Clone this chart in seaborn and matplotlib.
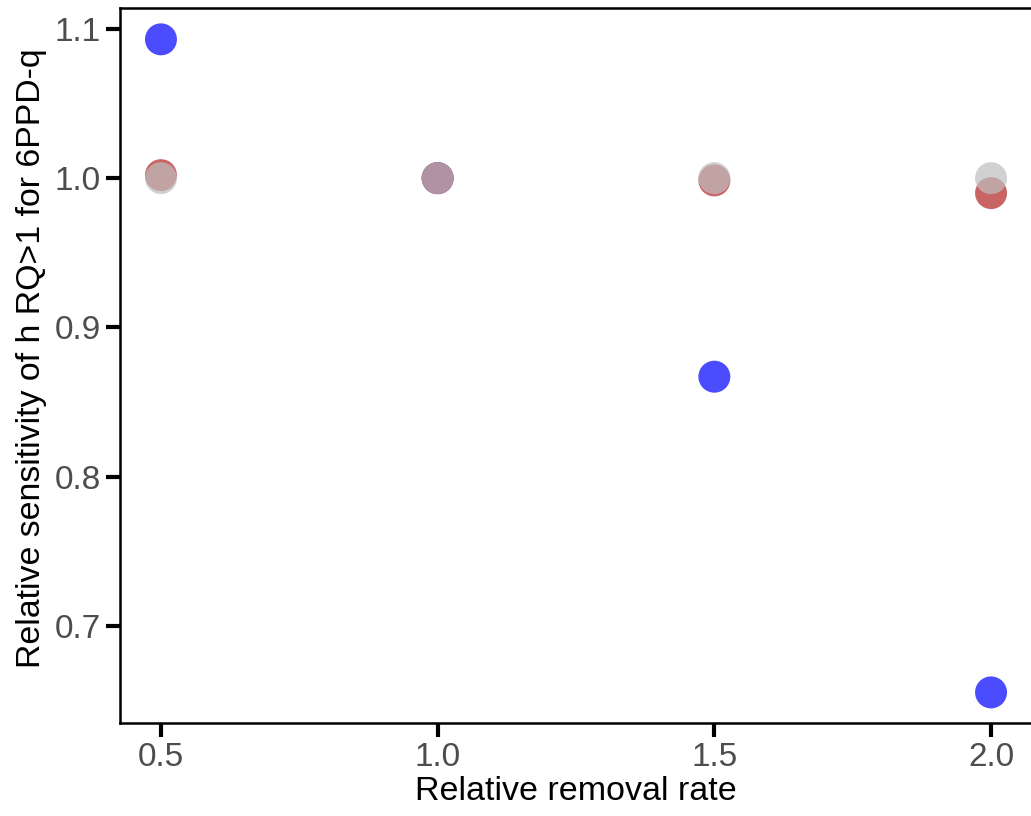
import matplotlib
matplotlib.use("Agg")
import matplotlib.pyplot as plt
import seaborn as sns
import pandas as pd

# Relative removal rates tested
removal_rate = [0.5, 1.0, 1.5, 2.0]

# Relative sensitivity of hours with RQ>1 for 6PPD-q, per scenario
sens_blue = [1.093, 1.000, 0.867, 0.6555]
sens_red = [1.002, 1.000, 0.9985, 0.990]
sens_grey = [1.000, 1.000, 1.000, 1.000]

series_names = ["blue", "red", "grey"]
series_colors = {"blue": "#0000FF", "red": "#B22222", "grey": "#BEBEBE"}

frames = []
for name, vals in zip(series_names, [sens_blue, sens_red, sens_grey]):
    frames.append(pd.DataFrame({"rate": removal_rate, "sens": vals, "group": name}))
df = pd.concat(frames, ignore_index=True)

sns.set_theme(style="white")
plt.rcParams["font.family"] = ["Liberation Sans", "DejaVu Sans"]

fig = plt.figure(figsize=(10.31, 8.16), dpi=100)
ax = fig.add_axes([120 / 1031, 1 - 723 / 816, (1032 - 120) / 1031, (723 - 8) / 816])

sns.scatterplot(data=df, x="rate", y="sens", hue="group", palette=series_colors,
                hue_order=series_names, s=530, alpha=0.7, linewidth=0,
                legend=False, ax=ax)

ax.set_xlim(0.426, 2.074)
ax.set_ylim(0.635, 1.114)
ax.set_xticks([0.5, 1.0, 1.5, 2.0])
ax.set_xticklabels(["0.5", "1.0", "1.5", "2.0"])
ax.set_yticks([0.7, 0.8, 0.9, 1.0, 1.1])
ax.set_yticklabels(["0.7", "0.8", "0.9", "1.0", "1.1"])

for sp in ax.spines.values():
    sp.set_color("black")
    sp.set_linewidth(1.8)
    sp.set_visible(True)

ax.tick_params(axis="both", which="major", length=10, width=3.0, color="black",
               labelsize=24, labelcolor="#4D4D4D", pad=4, direction="out",
               bottom=True, left=True)

ax.set_xlabel("Relative removal rate", fontsize=24.5, color="black", labelpad=2)
ax.set_ylabel("Relative sensitivity of h RQ>1 for 6PPD-q", fontsize=24.4,
              color="black")
ax.yaxis.set_label_coords(-0.080, 0.51)

fig.savefig("out.png", dpi=100)
